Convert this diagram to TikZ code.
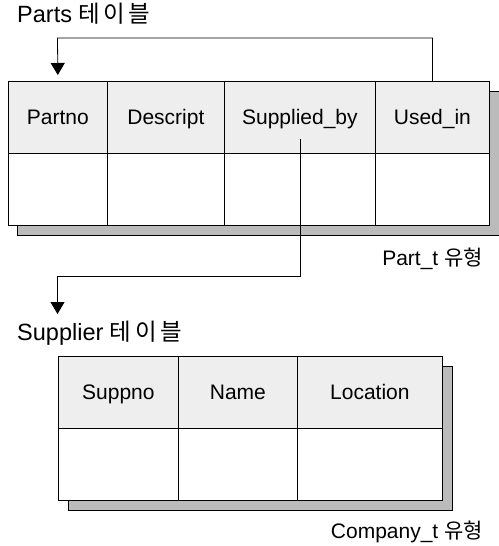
\documentclass[tikz,border=0pt]{standalone}
\usepackage{fontspec}
\setmainfont{Liberation Sans}
\newfontfamily\kr{Noto Sans CJK KR}
\newfontfamily\krsp[LetterSpace=15]{Noto Sans CJK KR}
\usetikzlibrary{arrows.meta}
\definecolor{headgray}{HTML}{EEEEEE}
\definecolor{shadowgray}{HTML}{BBBBBB}
\begin{document}
\begin{tikzpicture}[x=1pt,y=-1pt,
  font=\fontsize{21}{25}\selectfont,
  cellbase/.style={draw=black, line width=0.8pt, inner sep=0pt, anchor=north west,
    text height=19pt, text depth=4pt},
  hcell/.style={cellbase, fill=headgray, minimum height=72pt},
  bcell/.style={cellbase, fill=white, minimum height=72pt},
  shadowbox/.style={draw=black, fill=shadowgray, line width=0.8pt},
  link/.style={draw=black, line width=0.8pt, -{Triangle[length=12pt,width=14pt]}},
  lbl/.style={inner sep=0pt},
  titlelbl/.style={lbl, font=\fontsize{23.5}{28}\selectfont}]
\useasboundingbox (0,0) rectangle (498,546);

% ---- Parts table ----
\path[shadowbox] (17,91) rectangle (500,235);
\node[hcell, minimum width=99pt]  (partno)   at (8,81)   {Partno};
\node[hcell, minimum width=117pt] (descript) at (107,81) {Descript};
\node[hcell, minimum width=151pt] (supby)    at (224,81) {Supplied\_by};
\node[hcell, minimum width=114pt] (usedin)   at (375,81) {Used\_in};
\node[bcell, minimum width=99pt]  (b1) at (8,153)   {};
\node[bcell, minimum width=117pt] (b2) at (107,153) {};
\node[bcell, minimum width=151pt] (b3) at (224,153) {};
\node[bcell, minimum width=114pt] (b4) at (375,153) {};

% ---- Supplier table ----
\path[shadowbox] (68,366) rectangle (452,510);
\node[hcell, minimum width=120pt] (suppno)   at (58,356)  {Suppno};
\node[hcell, minimum width=119pt] (name)     at (178,356) {Name};
\node[hcell, minimum width=145pt] (location) at (297,356) {Location};
\node[bcell, minimum width=120pt] (c1) at (58,428)  {};
\node[bcell, minimum width=119pt] (c2) at (178,428) {};
\node[bcell, minimum width=145pt] (c3) at (297,428) {};

% ---- labels ----
\node[titlelbl, anchor=base west] (partslbl) at (17,22) {Parts {\krsp 테이블}};
\node[lbl, anchor=base east] (parttlbl) at (483,265) {Part\_t {\kr 유형}};
\node[titlelbl, anchor=base west] (supplbl)  at (17,340) {Supplier {\krsp 테이블}};
\node[lbl, anchor=base east] (comptlbl) at (483,538) {Company\_t {\kr 유형}};

% ---- connectors ----
\coordinate (bend1) at (57.5,38);
\draw[link, shorten >=6pt] (usedin.north) |- (bend1) -- (partno.north);

\coordinate (start2) at ([yshift=-22pt]supby.center);
\coordinate (bend2) at (57.5,276);
\coordinate (tip2) at (57.5,314);
\draw[link] (start2) |- (bend2) -- (tip2);
\end{tikzpicture}
\end{document}
